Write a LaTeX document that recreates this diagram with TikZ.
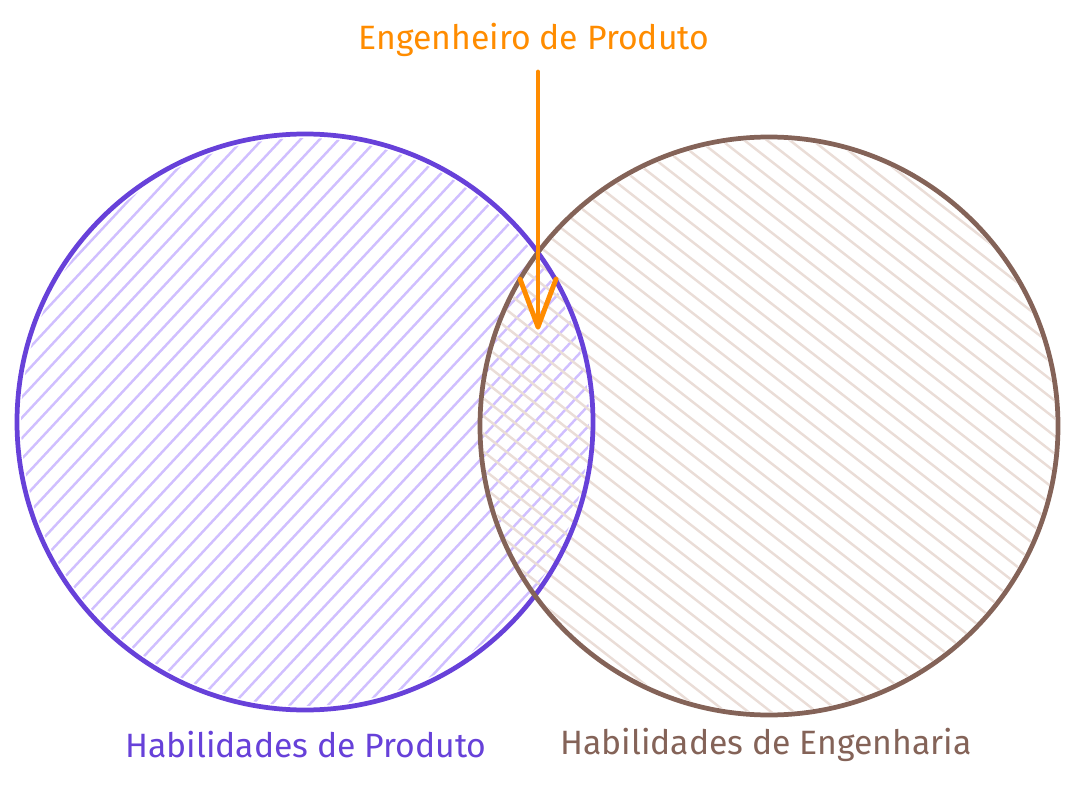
\documentclass[tikz,border=0pt]{standalone}
\usepackage{fontspec}
\setmainfont{Fira Sans}
\usetikzlibrary{calc}
\definecolor{prodline}{HTML}{6741D9}
\definecolor{prodhatch}{HTML}{D0BFFF}
\definecolor{engline}{HTML}{846358}
\definecolor{enghatch}{HTML}{EADDD7}
\definecolor{pointer}{HTML}{FF8C00}
\tikzset{
  ring/.style={line width=2.7pt},
  hatchline/.style={line width=1.4pt},
  lbl/.style={font=\fontsize{19.2}{21}\selectfont,inner sep=0pt},
}
\begin{document}
\begin{tikzpicture}[x=0.02cm,y=-0.02cm]
\useasboundingbox (0,0) rectangle (1071,787);
\coordinate (cl) at (305,422);
\coordinate (cr) at (769,426);
% hachures
\begin{scope}
\clip (cl) circle (284);
\foreach \s in {-294,-280,...,300}
  \draw[hatchline,prodhatch] ($(cl)+(43:\s)+(-47:320)$) -- ($(cl)+(43:\s)+(133:320)$);
\end{scope}
\begin{scope}
\clip (cr) circle (286);
\foreach \s in {-294,-280,...,300}
  \draw[hatchline,enghatch] ($(cr)+(128:\s)+(38:320)$) -- ($(cr)+(128:\s)+(218:320)$);
\end{scope}
% circles
\draw[ring,prodline] (cl) circle (288);
\draw[ring,engline] (cr) circle (289);
% labels
\node[lbl,text=pointer] (ep) at (534,40) {Engenheiro de Produto};
\node[lbl,text=prodline] (hp) at (306,745) {Habilidades de Produto};
\node[lbl,text=engline] (he) at (766,745) {Habilidades de Engenharia};
% arrow
\coordinate (s) at (538,72);
\coordinate (e) at (538,327);
\draw[pointer,line width=2.8pt,line cap=round,line join=round] (s) -- (e);
\draw[pointer,line width=2.8pt,line cap=round,line join=round] ($(e)+(-18,-48)$) -- (e) -- ($(e)+(18,-48)$);
\end{tikzpicture}
\end{document}
